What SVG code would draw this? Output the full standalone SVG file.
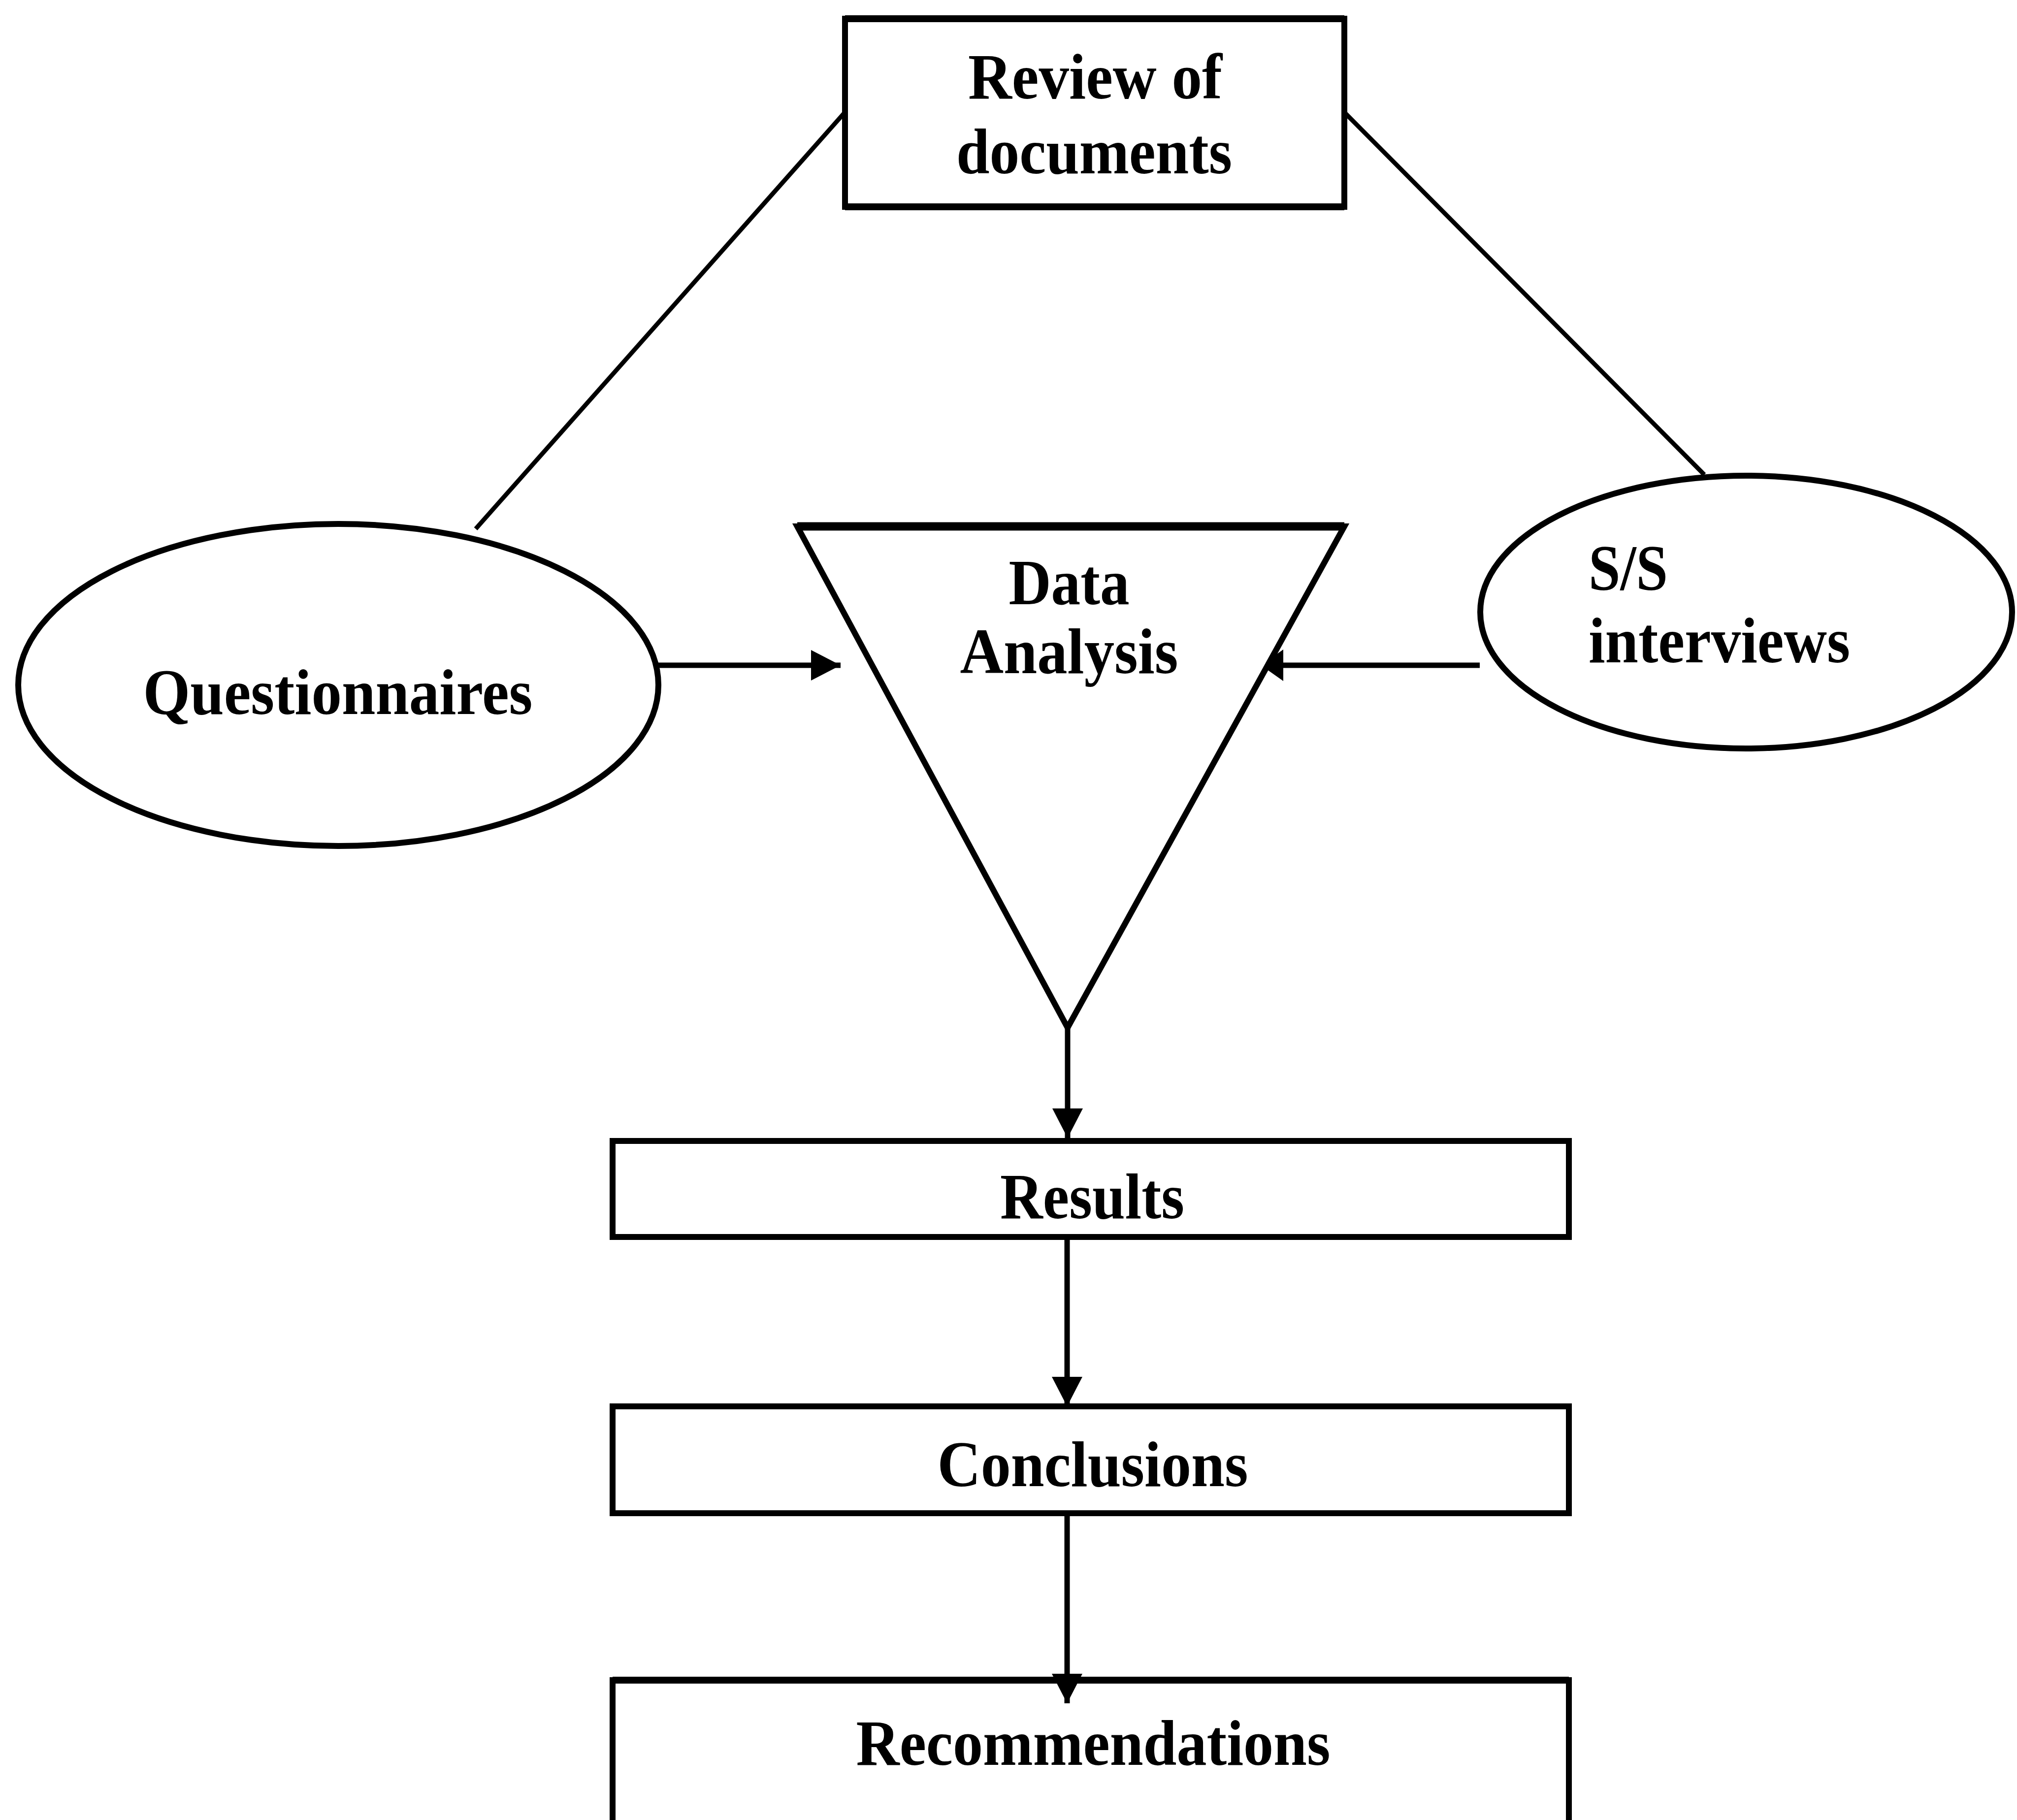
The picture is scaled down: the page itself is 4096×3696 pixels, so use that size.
<svg xmlns="http://www.w3.org/2000/svg" width="4096" height="3696" viewBox="0 0 4096 3696">
<style>
.shape{fill:#fff;stroke:#000;stroke-width:12}
.edge{fill:none;stroke:#000;stroke-width:14}
.conn{fill:none;stroke:#000;stroke-width:11}
.thin{fill:none;stroke:#000;stroke-width:9}
.lbl{font-family:"Liberation Serif","Times New Roman",serif;font-weight:bold;font-size:132px;fill:#000}
.c{text-anchor:middle}
</style>
<defs>
<marker id="arrow" markerUnits="userSpaceOnUse" viewBox="0 0 60 62" markerWidth="60" markerHeight="62" refX="60" refY="31" orient="auto">
<path d="M0,0 L60,31 L0,62 Z" fill="#000"/>
</marker>
<marker id="arrowShort" markerUnits="userSpaceOnUse" viewBox="0 0 34 64" markerWidth="34" markerHeight="64" refX="34" refY="32" orient="auto">
<path d="M0,0 L34,24 L34,40 L0,64 Z" fill="#000"/>
</marker>
</defs>
<rect width="4096" height="3696" fill="#fff"/>
<g id="connectors">
<path class="thin" d="M1714,230 L966,1074"/>
<path class="thin" d="M2732,230 L3461,964"/>
<path class="conn" d="M1337,1351 L1707,1351" marker-end="url(#arrow)"/>
<path class="conn" d="M3005,1351 L2572,1351" marker-end="url(#arrowShort)"/>
<path class="conn" d="M2168,2087 L2168,2311" marker-end="url(#arrow)"/>
<path class="conn" d="M2167,2512 L2167,2856" marker-end="url(#arrow)"/>
</g>
<g id="review">
<rect class="shape" x="1716" y="38" width="1014" height="382"/>
<path class="edge" d="M1716,38 H2730 M1716,420 H2730"/>
<text class="lbl c" x="2224" y="200" textLength="516" lengthAdjust="spacingAndGlyphs">Review of</text>
<text class="lbl c" x="2222" y="352" textLength="560" lengthAdjust="spacingAndGlyphs">documents</text>
</g>
<g id="questionnaires">
<ellipse class="shape" cx="687" cy="1391" rx="650" ry="327"/>
<text class="lbl c" x="686" y="1450" textLength="791" lengthAdjust="spacingAndGlyphs">Questionnaires</text>
</g>
<g id="data-analysis">
<polygon class="shape" points="1619,1069 2730,1069 2168,2087"/>
<path class="edge" d="M1619,1069 H2730" style="stroke-width:17"/>
<text class="lbl c" x="2171" y="1227" textLength="245" lengthAdjust="spacingAndGlyphs">Data</text>
<text class="lbl c" x="2171" y="1367" textLength="443" lengthAdjust="spacingAndGlyphs">Analysis</text>
</g>
<g id="ss-interviews">
<ellipse class="shape" cx="3546" cy="1243" rx="540" ry="277"/>
<text class="lbl" x="3226" y="1198" textLength="161" lengthAdjust="spacingAndGlyphs">S/S</text>
<text class="lbl" x="3226" y="1345" textLength="531" lengthAdjust="spacingAndGlyphs">interviews</text>
</g>
<g id="results">
<rect class="shape" x="1244" y="2317" width="1942" height="195"/>
<text class="lbl c" x="2218" y="2474" textLength="374" lengthAdjust="spacingAndGlyphs">Results</text>
</g>
<g id="conclusions">
<rect class="shape" x="1244" y="2856" width="1942" height="217"/>
<text class="lbl c" x="2219" y="3018" textLength="631" lengthAdjust="spacingAndGlyphs">Conclusions</text>
</g>
<g id="recommendations">
<rect class="shape" x="1244" y="3412" width="1942" height="400"/>
<path class="edge" d="M1244,3412 H3186"/>
<text class="lbl c" x="2220" y="3584" textLength="963" lengthAdjust="spacingAndGlyphs">Recommendations</text>
</g>
<g id="connectors-top">
<path class="conn" d="M2167,3073 L2167,3459" marker-end="url(#arrow)"/>
</g>
</svg>
